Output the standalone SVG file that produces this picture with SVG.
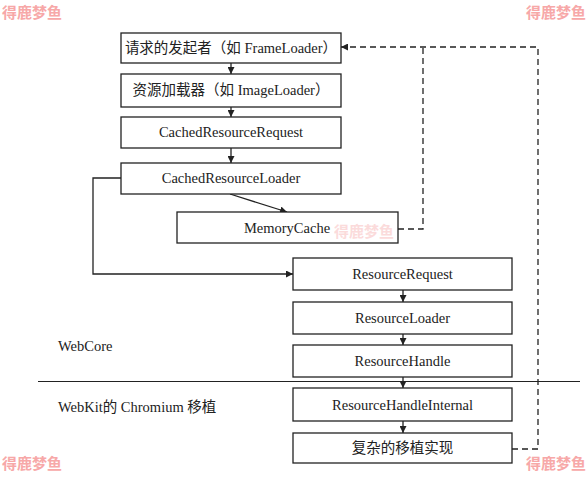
<svg xmlns="http://www.w3.org/2000/svg" width="587" height="478" viewBox="0 0 587 478">
<style>
.box{fill:#fff;stroke:#222;stroke-width:1.3}
.t{font-family:"Liberation Serif","Noto Sans CJK SC",serif;font-size:14.5px;fill:#222;text-anchor:middle}
.lbl{font-family:"Liberation Serif","Noto Sans CJK SC",serif;font-size:14.5px;fill:#222}
.c{fill:none;stroke:#222;stroke-width:1.3}
.d{fill:none;stroke:#222;stroke-width:1.3;stroke-dasharray:6 4}
.wm{font-family:"Noto Sans CJK SC",sans-serif;font-size:15px;font-weight:bold;fill:#f7a8a8}
</style>
<defs>
<marker id="ah" viewBox="0 0 10 10" refX="10" refY="5" markerWidth="7" markerHeight="7" markerUnits="userSpaceOnUse" orient="auto">
<path d="M0,0 L10,5 L0,10 z" fill="#222"/>
</marker>
</defs>
<rect width="587" height="478" fill="#fff"/>
<g id="watermarks">
<text class="wm" x="2" y="18">得鹿梦鱼</text>
<text class="wm" x="526" y="18">得鹿梦鱼</text>
<text class="wm" x="2" y="469">得鹿梦鱼</text>
<text class="wm" x="526" y="469">得鹿梦鱼</text>
</g>
<g id="connectors">
<line class="c" x1="231" y1="63" x2="231" y2="74" marker-end="url(#ah)"/>
<line class="c" x1="231" y1="107" x2="231" y2="117" marker-end="url(#ah)"/>
<line class="c" x1="231" y1="148" x2="231" y2="163" marker-end="url(#ah)"/>
<line class="c" x1="230" y1="194" x2="287" y2="212" marker-end="url(#ah)"/>
<polyline class="c" points="121,178 93,178 93,274 293,274" marker-end="url(#ah)"/>
<line class="c" x1="403" y1="290" x2="403" y2="302" marker-end="url(#ah)"/>
<line class="c" x1="403" y1="334" x2="403" y2="345" marker-end="url(#ah)"/>
<line class="c" x1="403" y1="377" x2="403" y2="388" marker-end="url(#ah)"/>
<line class="c" x1="403" y1="421" x2="403" y2="433" marker-end="url(#ah)"/>
<polyline class="d" points="512,449 538,449 538,47 341,47" marker-end="url(#ah)"/>
<polyline class="d" points="398,229 423,229 423,47"/>
<line x1="38" y1="381.5" x2="580" y2="381.5" stroke="#222" stroke-width="1.2"/>
</g>
<g id="n1"><rect class="box" x="121" y="33" width="220" height="30"/><text class="t" x="231" y="53">请求的发起者（如 FrameLoader）</text></g>
<g id="n2"><rect class="box" x="121" y="74" width="220" height="33"/><text class="t" x="231" y="95">资源加载器（如 ImageLoader）</text></g>
<g id="n3"><rect class="box" x="121" y="117" width="220" height="31"/><text class="t" x="231" y="137">CachedResourceRequest</text></g>
<g id="n4"><rect class="box" x="121" y="163" width="220" height="31"/><text class="t" x="231" y="183">CachedResourceLoader</text></g>
<g id="n5"><rect class="box" x="177" y="212" width="221" height="31"/><text class="t" x="287" y="233">MemoryCache</text></g>
<g id="n6"><rect class="box" x="293" y="258" width="219" height="32"/><text class="t" x="402.5" y="279">ResourceRequest</text></g>
<g id="n7"><rect class="box" x="293" y="302" width="219" height="32"/><text class="t" x="402.5" y="323">ResourceLoader</text></g>
<g id="n8"><rect class="box" x="293" y="345" width="219" height="32"/><text class="t" x="402.5" y="366">ResourceHandle</text></g>
<g id="n9"><rect class="box" x="293" y="388" width="219" height="33"/><text class="t" x="402.5" y="410">ResourceHandleInternal</text></g>
<g id="n10"><rect class="box" x="293" y="433" width="219" height="30"/><text class="t" x="402.5" y="453">复杂的移植实现</text></g>
<g id="labels">
<text class="lbl" x="58" y="351">WebCore</text>
<text class="lbl" x="58" y="412">WebKit的 Chromium 移植</text>
</g>
<text class="wm" x="334" y="237" opacity="0.4">得鹿梦鱼</text>
</svg>
